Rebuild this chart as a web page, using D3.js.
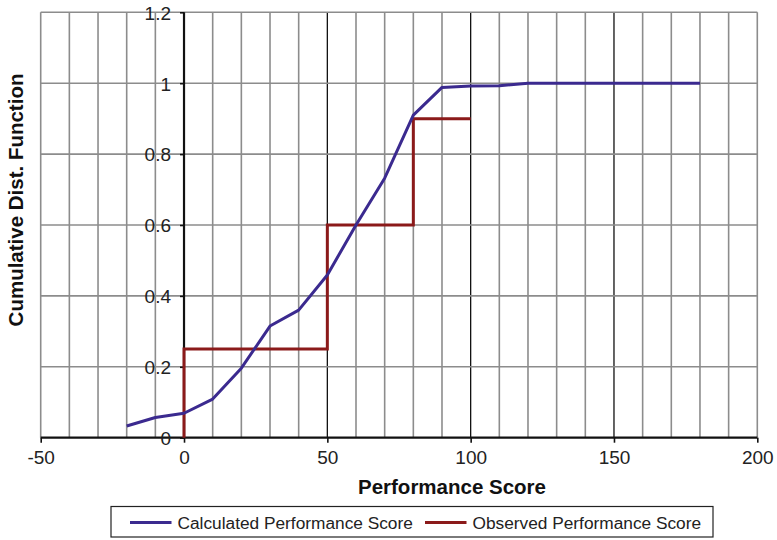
<!DOCTYPE html>
<html><head><meta charset="utf-8">
<script src="https://cdn.jsdelivr.net/npm/d3@7"></script>
<style>body{margin:0;background:#fff}svg{display:block}text{font-family:"Liberation Sans",Arial,sans-serif}</style>
</head><body>
<svg id="c" width="777" height="540"></svg>
<script>
const calcX = [-20,-10,0,10,20,30,40,50,60,70,80,90,100,110,120,130,140,150,160,170,180];
const calcY = [0.033,0.057,0.069,0.109,0.196,0.315,0.36,0.459,0.60,0.732,0.91,0.988,0.992,0.993,1.0,1.0,1.0,1.0,1.0,1.0,1.0];
const obsX = [0,0,50,50,80,80,100];
const obsY = [0,0.25,0.25,0.6,0.6,0.9,0.9];
const xTicks = [-50,0,50,100,150,200];
const yTicks = [0,0.2,0.4,0.6,0.8,1,1.2];
const seriesNames = ["Calculated Performance Score","Observed Performance Score"];
const colors = ["#3b2a8f","#8b1a1a"];

const svg = d3.select("#c");
const L=40.7,R=757.3,T=12.3,B=437.7;
const x = d3.scaleLinear().domain([-50,200]).range([L,R]);
const y = d3.scaleLinear().domain([0,1.2]).range([B,T]);

// gridlines
const minor = d3.range(-50,201,10);
const isMajor = d=>(d%50===0 && d!==-50 && d!==200);
svg.append("g").selectAll("line").data(minor).join("line")
  .attr("x1",d=>x(d)).attr("x2",d=>x(d)).attr("y1",T).attr("y2",B)
  .attr("stroke",d=>isMajor(d)?"#111":"#8c8c8c")
  .attr("stroke-width",d=>isMajor(d)?1.3:1.6);
svg.append("g").selectAll("line").data(yTicks.slice(1)).join("line")
  .attr("x1",L).attr("x2",R).attr("y1",d=>y(d)).attr("y2",d=>y(d))
  .attr("stroke","#8c8c8c").attr("stroke-width",1.6);

// axes
const xAxis = d3.axisBottom(x).tickValues(xTicks).tickSize(5).tickFormat(d=>String(d));
const gx = svg.append("g").attr("transform",`translate(0,${y(0)})`).call(xAxis);
gx.select(".domain").attr("stroke","#111").attr("stroke-width",2.2).attr("d",`M${L},0H${R}`);
gx.selectAll(".tick line").attr("stroke","#111").attr("stroke-width",1.6);
gx.selectAll(".tick text").attr("font-size",19).attr("fill","#222").attr("dy",0).attr("y",26.5);

const yAxis = d3.axisLeft(y).tickValues(yTicks).tickSize(4).tickFormat(d=>String(d));
const gy = svg.append("g").attr("transform",`translate(${x(0)},0)`).call(yAxis);
gy.select(".domain").attr("stroke","#111").attr("stroke-width",2.2).attr("d",`M0,${T}V${B}`);
gy.selectAll(".tick line").attr("stroke","#111").attr("stroke-width",1.6);
gy.selectAll(".tick text").attr("font-size",19).attr("fill","#222").attr("x",-13).attr("dy","0.36em");

// lines
const line = d3.line().x(d=>x(d[0])).y(d=>y(d[1]));
svg.append("path").datum(obsX.map((v,i)=>[v,obsY[i]])).attr("d",line)
  .attr("fill","none").attr("stroke",colors[1]).attr("stroke-width",3);
svg.append("path").datum(calcX.map((v,i)=>[v,calcY[i]])).attr("d",line)
  .attr("fill","none").attr("stroke",colors[0]).attr("stroke-width",3).attr("stroke-linejoin","round");

// titles
svg.append("text").attr("x",452).attr("y",493.5).attr("text-anchor","middle")
  .attr("font-size",20.5).attr("font-weight","bold").attr("fill","#111").text("Performance Score");
svg.append("text").attr("transform",`translate(23,200) rotate(-90)`).attr("text-anchor","middle")
  .attr("font-size",20.5).attr("font-weight","bold").attr("fill","#111").text("Cumulative Dist. Function");

// legend
svg.append("rect").attr("x",111).attr("y",506.5).attr("width",602).attr("height",30.5)
  .attr("fill","#fff").attr("stroke","#222").attr("stroke-width",1.2);
const lx=[130,425];
seriesNames.forEach((n,i)=>{
  svg.append("line").attr("x1",lx[i]).attr("x2",lx[i]+41.5).attr("y1",522.5).attr("y2",522.5)
    .attr("stroke",colors[i]).attr("stroke-width",3);
  svg.append("text").attr("x",lx[i]+47.5).attr("y",522.5).attr("dy","0.35em")
    .attr("font-size",17.3).attr("fill","#222").text(n);
});
</script>
</body></html>
